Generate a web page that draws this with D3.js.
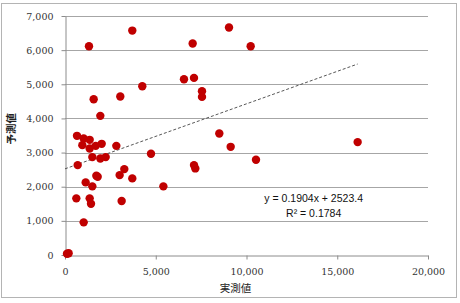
<!DOCTYPE html>
<html>
<head>
<meta charset="utf-8">
<script src="https://cdn.jsdelivr.net/npm/d3@7"></script>
<style>
  body { margin: 0; background: #fff; }
  text { font-family: "Liberation Sans", Arial, sans-serif; }
</style>
</head>
<body>
<svg id="chart" width="460" height="303"></svg>
<script>
// 実測値 / 予測値 の散布図
let actual = [1322, 3708, 4259, 1580, 3047, 1946,
    661, 1029, 1359, 955, 1359, 1690, 2021, 2828, 1506, 1946, 2241, 4738, 698, 1727, 1800,
    3267, 3011, 3708, 1139, 1506, 5420, 624, 1359, 1433, 3121, 1029, 110, 200,
    7034, 9036, 10230, 6556, 7107, 7548, 7548,
    8502, 9128, 10523, 7107, 7180, 16124];
let predicted = [6114, 6573, 4944, 4563, 4642, 4075,
    3490, 3413, 3373, 3218, 3121, 3197, 3256, 3197, 2867, 2828, 2867, 2964, 2633, 2320, 2290,
    2516, 2340, 2244, 2127, 2010, 2010, 1659, 1659, 1501, 1580, 956, 38, 50,
    6193, 6661, 6114, 5148, 5187, 4797, 4631,
    3560, 3168, 2788, 2633, 2536, 3306];
let x_ticks = [0, 5000, 10000, 15000, 20000];
let y_ticks = [0, 1000, 2000, 3000, 4000, 5000, 6000, 7000];
let slope = 0.1904, intercept = 2523.4, r2 = 0.1784;

const svg = d3.select('#chart');
const margin = { left: 65, right: 32, top: 16, bottom: 48 };
const W = 460, H = 303;

const x = d3.scaleLinear().domain([0, 20000]).range([margin.left, W - margin.right]);
const y = d3.scaleLinear().domain([0, 7000]).range([H - margin.bottom, margin.top]);
const fmt = d3.format(',');

// 外枠
svg.append('rect')
    .attr('x', 1.5).attr('y', 3.5)
    .attr('width', 455).attr('height', 294)
    .attr('fill', 'none')
    .attr('stroke', '#b4b4b4');

// グリッド
svg.append('g')
    .selectAll('line')
    .data(y_ticks.filter(d => d > 0))
    .enter()
    .append('line')
    .attr('x1', x(0)).attr('x2', x(20000))
    .attr('y1', d => Math.round(y(d)) + 0.5)
    .attr('y2', d => Math.round(y(d)) + 0.5)
    .attr('stroke', '#a6a6a6');

// y軸
const yAxis = svg.append('g')
    .attr('transform', `translate(${Math.round(x(0)) + 0.5},0)`)
    .call(d3.axisLeft(y).tickValues(y_ticks).tickFormat(fmt).tickSize(4).tickPadding(8).tickSizeOuter(0));

// x軸
const xAxis = svg.append('g')
    .attr('transform', `translate(0,${Math.round(y(0)) + 0.5})`)
    .call(d3.axisBottom(x).tickValues(x_ticks).tickFormat(fmt).tickSize(4).tickPadding(9).tickSizeOuter(0));

[yAxis, xAxis].forEach(g => {
    g.select('.domain').attr('stroke', '#8c8c8c');
    g.selectAll('.tick line').attr('stroke', '#8c8c8c');
    g.selectAll('.tick text')
        .attr('fill', '#333')
        .style('font-family', '"DejaVu Serif", "Liberation Serif", serif')
        .style('font-size', '9.5px');
});

// 近似直線
const xmax = d3.max(actual);
svg.append('line')
    .attr('x1', x(0)).attr('y1', y(intercept))
    .attr('x2', x(xmax)).attr('y2', y(slope * xmax + intercept))
    .attr('stroke', '#444')
    .attr('stroke-width', 0.9)
    .attr('stroke-dasharray', '3,2');

// 点
svg.append('g')
    .selectAll('circle')
    .data(actual.map((d, i) => [d, predicted[i]]))
    .enter()
    .append('circle')
    .attr('cx', d => x(d[0]))
    .attr('cy', d => y(d[1]))
    .attr('r', 4.2)
    .attr('fill', '#c00000');

// 数式
const eq = svg.append('g').attr('transform', `translate(${x(13700)},0)`);
eq.append('text')
    .attr('y', y(1540))
    .attr('text-anchor', 'middle')
    .style('font-size', '10.5px')
    .attr('fill', '#111')
    .text(`y = ${slope}x + ${intercept}`);
eq.append('text')
    .attr('y', y(1100))
    .attr('text-anchor', 'middle')
    .style('font-size', '10.5px')
    .attr('fill', '#111')
    .text(`R² = ${r2}`);

// 軸ラベル
svg.append('text')
    .attr('x', x(9400)).attr('y', 292)
    .attr('text-anchor', 'middle')
    .style('font-family', '"Noto Sans CJK JP", sans-serif')
    .style('font-size', '10.5px')
    .attr('fill', '#222')
    .text('実測値');

svg.append('text')
    .attr('transform', `translate(15,${y(3700)}) rotate(-90)`)
    .attr('text-anchor', 'middle')
    .style('font-family', '"Noto Sans CJK JP", sans-serif')
    .style('font-size', '10.5px')
    .style('font-weight', 'bold')
    .attr('fill', '#222')
    .text('予測値');
</script>
</body>
</html>
